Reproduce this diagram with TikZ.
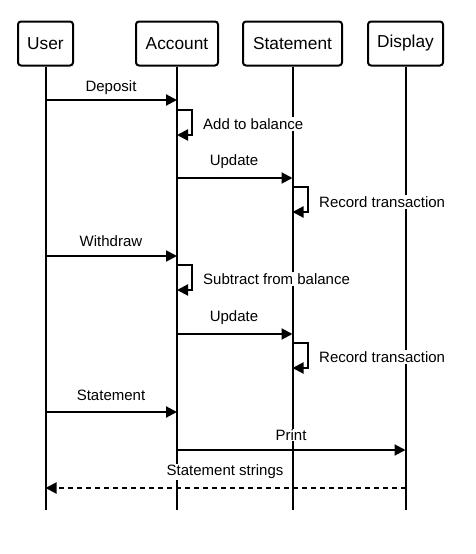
\documentclass[tikz,border=0pt]{standalone}
\usepackage{fontspec}
\setmainfont{Liberation Sans}
\usetikzlibrary{arrows.meta}
\begin{document}
\begin{tikzpicture}[x=1pt,y=-1pt,
  actor/.style={draw,line width=2pt,rounded corners=3pt,minimum height=44pt,inner xsep=6pt,font=\fontsize{17.3}{20}\selectfont,fill=white},
  life/.style={line width=2pt},
  msg/.style={line width=2pt,-{Triangle[length=11pt,width=11pt]}},
  ret/.style={msg,dash pattern=on 5pt off 4pt},
  lbl/.style={font=\fontsize{15}{18}\selectfont,fill=white,inner sep=1pt}]
\useasboundingbox (0,0) rectangle (475,554);
% actors
\node[actor,minimum width=55pt] (u) at (45.5,43.5) {User};
\node[actor,minimum width=82pt] (a) at (177,43.5) {Account};
\node[actor,minimum width=99pt] (s) at (292.5,43.5) {Statement};
\node[actor,minimum width=75pt] (d) at (405.5,43.5) {Display};
% lifeline ends
\coordinate (ue) at (45.5,510);
\coordinate (ae) at (177,510);
\coordinate (se) at (292.5,510);
\coordinate (de) at (405.5,510);
\draw[life] (u.south) -- (ue);
\draw[life] (a.south) -- (ae);
\draw[life] (s.south) -- (se);
\draw[life] (d.south) -- (de);
% message coordinates
\coordinate (u1) at (45.5,100); \coordinate (a1) at (177,100);
\coordinate (a2t) at (177,110); \coordinate (a2b) at (177,135);
\coordinate (a3) at (177,178); \coordinate (s3) at (292.5,178);
\coordinate (s4t) at (292.5,187); \coordinate (s4b) at (292.5,212);
\coordinate (u5) at (45.5,256); \coordinate (a5) at (177,256);
\coordinate (a6t) at (177,265); \coordinate (a6b) at (177,290);
\coordinate (a7) at (177,334); \coordinate (s7) at (292.5,334);
\coordinate (s8t) at (292.5,343); \coordinate (s8b) at (292.5,368);
\coordinate (u9) at (45.5,412); \coordinate (a9) at (177,412);
\coordinate (a10) at (177,450); \coordinate (d10) at (405.5,450);
\coordinate (d11) at (405.5,488); \coordinate (u11) at (45.5,488);
% labels (white background, drawn before arrows)
\node[lbl] (l1) at (111,88) {Deposit};
\node[lbl,anchor=west] (l2) at (202,124) {Add to balance};
\node[lbl] (l3) at (234,162) {Update};
\node[lbl,anchor=west] (l4) at (318,202) {Record transaction};
\node[lbl] (l5) at (111,241) {Withdraw};
\node[lbl,anchor=west] (l6) at (202,279) {Subtract from balance};
\node[lbl] (l7) at (234,318) {Update};
\node[lbl,anchor=west] (l8) at (318,357) {Record transaction};
\node[lbl] (l9) at (111,395) {Statement};
\node[lbl] (l10) at (291,435) {Print};
\node[lbl] (l11) at (225,472) {Statement strings};
% arrows
\draw[msg] (u1) -- (a1);
\draw[msg] (a2t) -- ++(15,0) |- (a2b);
\draw[msg] (a3) -- (s3);
\draw[msg] (s4t) -- ++(15,0) |- (s4b);
\draw[msg] (u5) -- (a5);
\draw[msg] (a6t) -- ++(15,0) |- (a6b);
\draw[msg] (a7) -- (s7);
\draw[msg] (s8t) -- ++(15,0) |- (s8b);
\draw[msg] (u9) -- (a9);
\draw[msg] (a10) -- (d10);
\draw[ret] (d11) -- (u11);
\end{tikzpicture}
\end{document}
